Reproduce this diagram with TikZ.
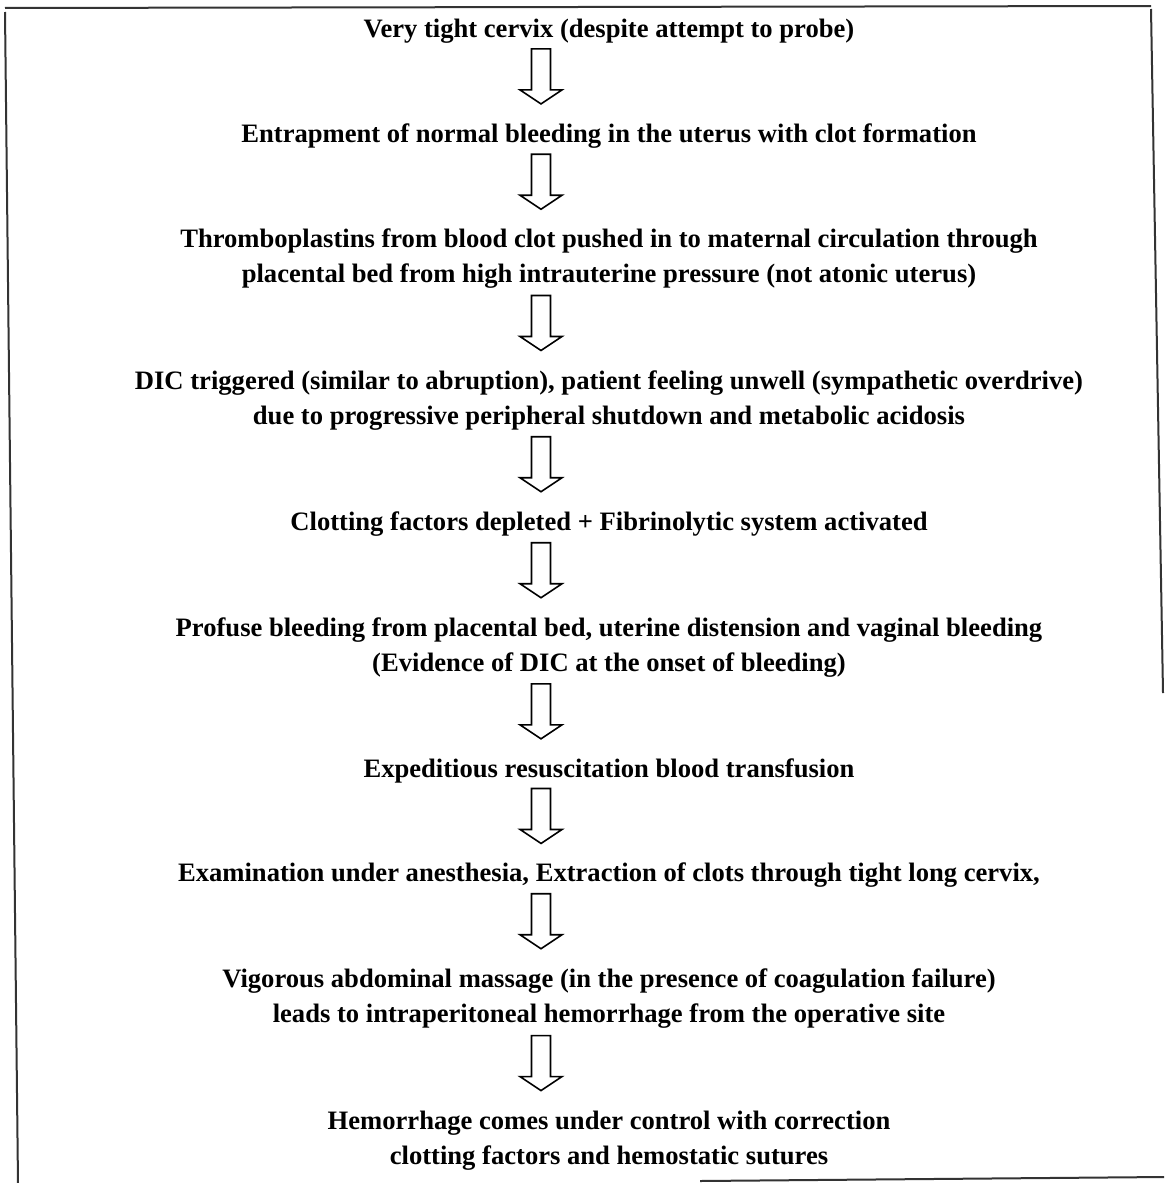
\documentclass[tikz,border=0pt]{standalone}
\usepackage{fontspec}
\setmainfont{Liberation Serif}
\usetikzlibrary{calc}
\tikzset{
	step text/.style={font=\fontsize{13.3}{17.5}\selectfont\bfseries, align=center, inner sep=0pt},
	block arrow/.style={draw=black, line width=0.8pt, fill=white, line join=miter},
	frame line/.style={line width=1pt, draw=black!80}}

% hollow down arrow between two steps
\newcommand{\hollowarrow}[2]{%
	\draw[block arrow] let \p1=($(#1.south)!0.5!(#2.north)+(0,3.5pt)$), \p2=(axis) in
	(\x2-4.75pt,\y1+13.75pt) -- (\x2+4.75pt,\y1+13.75pt) -- (\x2+4.75pt,\y1-6.75pt)
	-- (\x2+10.5pt,\y1-6.75pt) -- (\x2,\y1-13.75pt) -- (\x2-10.5pt,\y1-6.75pt)
	-- (\x2-4.75pt,\y1-6.75pt) -- cycle;}

\begin{document}
\begin{tikzpicture}[x=0.5pt, y=-0.5pt]
	
	\useasboundingbox (0,0) rectangle (1164,1183);
	\coordinate (axis) at (541,0);
	
	\node[step text] (cervix)   at (609,31)   {Very tight cervix (despite attempt to probe)};
	\node[step text] (entrap)   at (609,136)  {Entrapment of normal bleeding in the uterus with clot formation};
	\node[step text] (thrombo)  at (609,259)  {Thromboplastins from blood clot pushed in to maternal circulation through\\placental bed from high intrauterine pressure (not atonic uterus)};
	\node[step text] (dic)      at (609,401)  {DIC triggered (similar to abruption), patient feeling unwell (sympathetic overdrive)\\due to progressive peripheral shutdown and metabolic acidosis};
	\node[step text] (clotting) at (609,524)  {Clotting factors depleted + Fibrinolytic system activated};
	\node[step text] (profuse)  at (609,648)  {Profuse bleeding from placental bed, uterine distension and vaginal bleeding\\(Evidence of DIC at the onset of bleeding)};
	\node[step text] (resus)    at (609,771)  {Expeditious resuscitation blood transfusion};
	\node[step text] (exam)     at (609,875)  {Examination under anesthesia, Extraction of clots through tight long cervix,};
	\node[step text] (massage)  at (609,999)  {Vigorous abdominal massage (in the presence of coagulation failure)\\leads to intraperitoneal hemorrhage from the operative site};
	\node[step text] (control)  at (609,1141) {Hemorrhage comes under control with correction\\clotting factors and hemostatic sutures};
	
	\foreach \a/\b in {cervix/entrap, entrap/thrombo, thrombo/dic, dic/clotting, clotting/profuse,
		profuse/resus, resus/exam, exam/massage, massage/control}
		\hollowarrow{\a}{\b};
	
	% broken frame
	\draw[frame line] (5,8) -- (1151,6);
	\draw[frame line] (5,12) -- (18,1183);
	\draw[frame line] (1151,9) -- (1163,693);
	\draw[frame line] (700,1181) -- (1164,1177);
	
\end{tikzpicture}
\end{document}
